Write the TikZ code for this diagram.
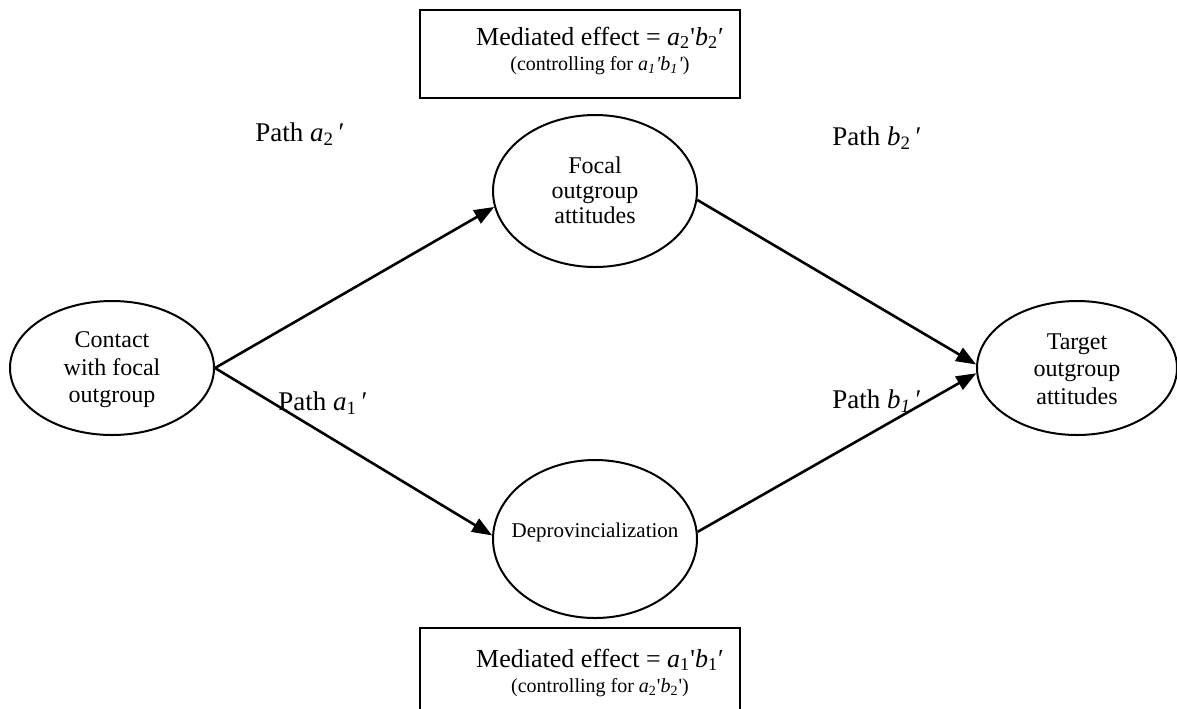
\documentclass[tikz,border=0pt]{standalone}
\usepackage{fontspec}
\setmainfont{Liberation Serif}
\usetikzlibrary{shapes.geometric,arrows.meta}
\newcommand{\sq}{\textquotesingle}
\begin{document}
\begin{tikzpicture}[x=0.5pt,y=-0.5pt,
  construct/.style={ellipse,draw,line width=1pt,inner sep=0pt,minimum width=102pt},
  constructtext/.style={align=center,inner sep=0pt,font=\fontsize{12}{13.8}\selectfont},
  effectbox/.style={rectangle,draw,line width=1pt,inner sep=0pt,
    minimum width=160pt,minimum height=44pt},
  effecttext/.style={anchor=base,inner sep=0pt,font=\fontsize{13}{14}\selectfont},
  controltext/.style={anchor=base,inner sep=0pt,font=\fontsize{10}{12}\selectfont},
  patharrow/.style={line width=1.3pt,-{Triangle[length=10pt,width=7.5pt]}},
  pathlabel/.style={anchor=base,inner sep=0pt,font=\fontsize{13.5}{15}\selectfont}]
\useasboundingbox (0,0) rectangle (1177,708);
\clip (0,0) rectangle (1177,708);

% constructs: fixed-size ellipses, text set separately on top
\node[construct,minimum height=67pt] (contact) at (112,368) {};
\node[constructtext] (contacttext) at (112,370) {Contact\\with focal\\outgroup};

\node[construct,minimum height=76pt] (focal) at (595,191) {};
\node[constructtext,font=\fontsize{12}{12.6}\selectfont] (focaltext) at (595,190)
  {Focal\\outgroup\\attitudes};

\node[construct,minimum height=79pt] (deprov) at (595,539) {};
\node[constructtext,font=\fontsize{10.5}{13}\selectfont] (deprovtext) at (595,532)
  {Deprovincialization};

\node[construct,minimum width=100pt,minimum height=67pt] (target) at (1077,368) {};
\node[constructtext] (targettext) at (1077,369) {Target\\outgroup\\attitudes};

% mediated-effect boxes
\node[effectbox] (topbox) at (580,54) {};
\node[effecttext] (toptext) at (600,45)
  {Mediated effect = \textit{a}\textsubscript{2}\sq\textit{b}\textsubscript{2}′};
\node[controltext] (topctrl) at (600,70)
  {(controlling for \textit{a\textsubscript{1}\sq b\textsubscript{1}\sq})};

\node[effectbox] (botbox) at (580,672) {};
\node[effecttext] (bottext) at (600,667)
  {Mediated effect = \textit{a}\textsubscript{1}\sq\textit{b}\textsubscript{1}′};
\node[controltext] (botctrl) at (600,692)
  {(controlling for \textit{a}\textsubscript{2}\sq\textit{b}\textsubscript{2}\sq)};

% paths
\draw[patharrow] (contact.east) -- (focal.189);
\draw[patharrow] (contact.east) -- (deprov.178);
\draw[patharrow] (focal.355) -- (target.178);
\draw[patharrow] (deprov.4) -- (target.183);

\node[pathlabel] (la2) at (300,141) {Path \textit{a}\textsubscript{2}\,′};
\node[pathlabel] (la1) at (323,410) {Path \textit{a}\textsubscript{1}\,′};
\node[pathlabel] (lb2) at (877,145) {Path \textit{b}\textsubscript{2}\,′};
\node[pathlabel] (lb1) at (877,408) {Path \textit{b\textsubscript{1}}\,′};
\end{tikzpicture}
\end{document}
